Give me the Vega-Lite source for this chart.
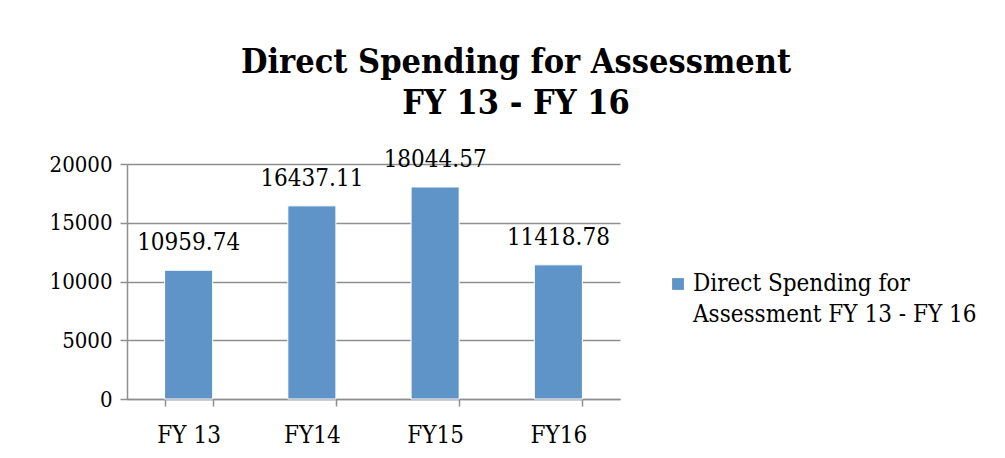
{
  "$schema": "https://vega.github.io/schema/vega-lite/v6.json",
  "autosize": {"type": "none"},
  "width": 493,
  "height": 235,
  "padding": {"left": 127, "top": 164, "right": 385, "bottom": 59},
  "background": "white",
  "title": {
    "text": ["Direct Spending for Assessment", "FY 13 - FY 16"],
    "font": "DejaVu Serif Condensed, DejaVu Serif, serif",
    "fontSize": 34,
    "fontWeight": "bold",
    "lineHeight": 41,
    "color": "#000000",
    "anchor": "middle",
    "frame": "bounds",
    "offset": 27,
    "dx": 3
  },
  "data": {
    "values": [
      {"year": "FY 13", "value": 10959.74, "series": "Direct Spending for Assessment FY 13 - FY 16"},
      {"year": "FY14", "value": 16437.11, "series": "Direct Spending for Assessment FY 13 - FY 16"},
      {"year": "FY15", "value": 18044.57, "series": "Direct Spending for Assessment FY 13 - FY 16"},
      {"year": "FY16", "value": 11418.78, "series": "Direct Spending for Assessment FY 13 - FY 16"}
    ]
  },
  "encoding": {
    "x": {
      "field": "year",
      "type": "nominal",
      "sort": null,
      "scale": {"paddingInner": 0.61, "paddingOuter": 0.305},
      "axis": {
        "title": null,
        "labelAngle": 0,
        "tickBand": "extent",
        "tickSize": 7,
        "labelPadding": 17,
        "labelFontSize": 24,
        "grid": false
      }
    },
    "y": {
      "field": "value",
      "type": "quantitative",
      "scale": {"domain": [0, 20000], "nice": false},
      "axis": {
        "title": null,
        "values": [0, 5000, 10000, 15000, 20000],
        "format": "d",
        "tickSize": 7,
        "labelPadding": 8,
        "labelFontSize": 22,
        "grid": true
      }
    }
  },
  "layer": [
    {
      "mark": {"type": "bar", "fill": "#5f94c9", "stroke": "#ffffff", "strokeWidth": 1},
      "encoding": {
        "color": {
          "field": "series",
          "type": "nominal",
          "scale": {"range": ["#5f94c9"]},
          "legend": {
            "orient": "none",
            "legendX": 539,
            "legendY": 108,
            "title": null,
            "symbolType": "square",
            "symbolSize": 140,
            "symbolStrokeWidth": 0,
            "labelExpr": "['Direct Spending for', 'Assessment FY 13 - FY 16']",
            "labelFont": "DejaVu Serif Condensed, DejaVu Serif, serif",
            "labelFontSize": 24,
            "labelColor": "#000000",
            "labelLimit": 400,
            "labelOffset": 3
          }
        }
      }
    },
    {
      "mark": {
        "type": "text",
        "baseline": "alphabetic",
        "dy": -20,
        "font": "DejaVu Serif Condensed, DejaVu Serif, serif",
        "fontSize": 24,
        "color": "#000000"
      },
      "encoding": {
        "text": {"field": "value", "type": "quantitative", "format": ".2f"}
      }
    }
  ],
  "config": {
    "view": {"stroke": null},
    "style": {"guide-label": {"lineHeight": 31}},
    "axis": {
      "domainColor": "#8f8f8f",
      "domainWidth": 1.5,
      "tickColor": "#8f8f8f",
      "tickWidth": 1.5,
      "gridColor": "#8f8f8f",
      "gridWidth": 1.5,
      "labelFont": "DejaVu Serif Condensed, DejaVu Serif, serif",
      "labelColor": "#000000"
    }
  }
}
